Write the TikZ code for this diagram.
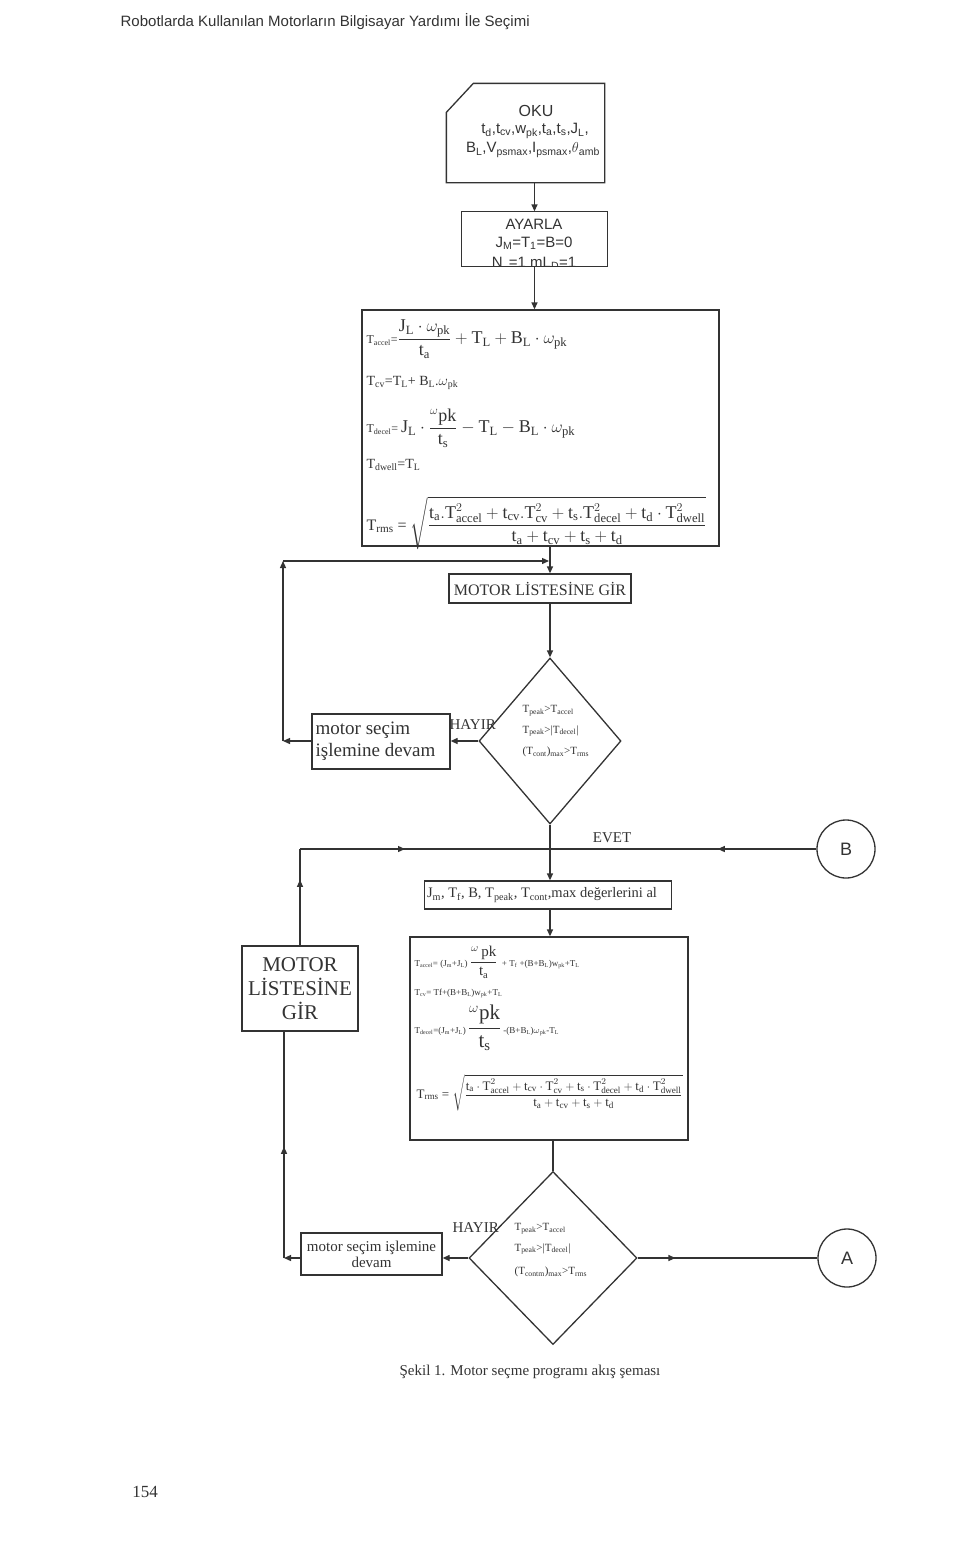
\documentclass[tikz,border=0pt]{standalone}
\usepackage{amsmath}
\usepackage{fontspec}
\setmainfont{Liberation Serif}
\setsansfont{Liberation Sans}
\usetikzlibrary{shapes.geometric,arrows.meta,decorations.markings,calc}
\newcommand\fs[1]{\fontsize{#1}{#1}\selectfont}
\newcommand\ssub[1]{\textsubscript{#1}}
\newcommand\tq[1]{\text{#1}}
\definecolor{ink}{HTML}{333333}
\begin{document}
\begin{tikzpicture}[x=1pt,y=-1pt,
  line width=1.3pt, draw=ink,
  >={Triangle[length=7pt,width=6pt]},
  every node/.style={text=ink},
  box/.style={draw=ink, line width=1.3pt, rectangle, inner sep=0pt},
  lbl/.style={inner sep=0pt, anchor=west},
  midarrow/.style={postaction={decorate},decoration={markings,mark=at position #1 with {\arrow{Triangle[length=7pt,width=6pt]}}}},
]
\path[fill=white] (0,0) rectangle (960,1550);
\useasboundingbox (0,0) rectangle (960,1550);

% header
\node[lbl, font=\sffamily\fs{15}] (hdr) at (120,22) {Robotlarda Kullanılan Motorların Bilgisayar Yardımı İle Seçimi};

% OKU
\node[minimum width=157pt, minimum height=98pt, inner sep=0pt] (oku) at (525.5,133) {};
\draw (oku.south west) -- (oku.south east) -- (oku.north east) -- ([xshift=27pt]oku.north west) -- ([yshift=-29pt]oku.north west) -- cycle;
\node[font=\sffamily\fs{16}] (okut) at (536,111) {OKU};
\node[font=\sffamily\fs{15}] (okua) at (535,131) {t\ssub{d},t\ssub{cv},w\ssub{pk},t\ssub{a},t\ssub{s},J\ssub{L},};
\node[font=\sffamily\fs{15}] (okub) at (533,150) {B\ssub{L},V\ssub{psmax},I\ssub{psmax},$\theta$\ssub{amb}};

% AYARLA
\node[minimum width=145pt, minimum height=54pt, inner sep=0pt] (ay) at (534.5,239) {};
\begin{scope}
\clip (ay.south west) rectangle (ay.north east);
\node[font=\sffamily\fs{15}] (aya) at (534,224) {AYARLA};
\node[font=\sffamily\fs{15}] (ayb) at (534,243) {J\ssub{M}=T\ssub{1}=B=0};
\node[font=\sffamily\fs{15}] (ayc) at (534,263) {N\ssub{..}=1 mL\ssub{D}=1};
\end{scope}
\draw (ay.south west) rectangle (ay.north east);

% formula box 1
\node[box, minimum width=357pt, minimum height=236pt] (f1) at (540.5,428) {};
\node[lbl] (f1a) at (366,339) {\fs{12}T\ssub{accel}=\fs{18}$\dfrac{\tq{J}_{\tq{L}}\cdot\omega_{\tq{pk}}}{\tq{t}_{\tq{a}}}+\tq{T}_{\tq{L}}+\tq{B}_{\tq{L}}\cdot\omega_{\tq{pk}}$};
\node[lbl] (f1b) at (366,383) {\fs{14}T\ssub{cv}=T\ssub{L}+ B\ssub{L}.$\omega$\ssub{pk}};
\node[lbl] (f1c) at (366,428) {\fs{12}T\ssub{decel}= \fs{18}$\tq{J}_{\tq{L}}\cdot\dfrac{{}^{\omega}\tq{pk}}{\tq{t}_{\tq{s}}}-\tq{T}_{\tq{L}}-\tq{B}_{\tq{L}}\cdot\omega_{\tq{pk}}$};
\node[lbl] (f1d) at (366,465) {\fs{14}T\ssub{dwell}=T\ssub{L}};
\node[lbl] (f1e) at (366,523) {\fs{16}T\ssub{rms} =\ \fs{18}$\sqrt{\dfrac{\tq{t}_{\tq{a}}.\tq{T}^2_{\tq{accel}}+\tq{t}_{\tq{cv}}.\tq{T}^2_{\tq{cv}}+\tq{t}_{\tq{s}}.\tq{T}^2_{\tq{decel}}+\tq{t}_{\tq{d}}\cdot\tq{T}^2_{\tq{dwell}}}{\tq{t}_{\tq{a}}+\tq{t}_{\tq{cv}}+\tq{t}_{\tq{s}}+\tq{t}_{\tq{d}}}}$};

% motor listesine gir 1
\node[box, minimum width=182pt, minimum height=29pt, font=\fs{16}] (ml1) at (540,588.5) {MOTOR LİSTESİNE GİR};

% decision 1
\node[diamond, draw=ink, line width=1.3pt, minimum width=142pt, minimum height=166pt, inner sep=0pt] (d1) at (550,741) {};
\node[lbl, font=\fs{11}] (d1a) at (522,711) {T\ssub{peak}>T\ssub{accel}};
\node[lbl, font=\fs{11}] (d1b) at (522,731) {T\ssub{peak}>|T\ssub{decel}|};
\node[lbl, font=\fs{11}] (d1c) at (522,752) {(T\ssub{cont})\ssub{max}>T\ssub{rms}};
\node[lbl, font=\fs{15}] (h1) at (449,725) {HAYIR};

% motor secim 1
\node[box, minimum width=138pt, minimum height=55pt] (ms1) at (381,741.5) {};
\node[lbl, font=\fs{19}] (ms1a) at (315,730) {motor seçim};
\node[lbl, font=\fs{19}] (ms1b) at (315,752) {işlemine devam};

% connectors upper part
\draw[->] (ay.north |- oku.south) -- (ay.north);
\draw[->] (ay.south) -- (ay.south |- f1.north);
\coordinate (J1) at (550,561);
\coordinate (L1) at (283,741);
\coordinate (L1t) at (283,561);
\draw[->] (f1.south -| d1.north) -- (ml1.north -| d1.north);
\draw[->] (ml1.south -| d1.north) -- (d1.north);
\draw[->] (d1.west) -- (ms1.east |- d1.west);
\draw[->] (ms1.west |- d1.west) -- (L1);
\draw[->] (L1) -- (L1t);
\draw[->] (L1t) -- ([xshift=-1pt]J1);

% EVET line
\node[font=\fs{15}] (evet) at (612,838) {EVET};
\node[circle, draw=ink, line width=1.3pt, minimum size=58pt, inner sep=0pt, font=\sffamily\fs{18}] (B) at (846,849) {B};
\node[box, minimum width=247pt, minimum height=28pt] (jb) at (548,895) {};
\node[font=\fs{14.5}, inner sep=0pt] (jbt) at (542,895) {J\ssub{m}, T\ssub{f}, B, T\ssub{peak}, T\ssub{cont},max değerlerini al};
\coordinate (J2) at (550,849);

% motor listesine gir 2
\node[box, minimum width=116pt, minimum height=85pt, font=\fs{21}, align=center] (ml2) at (300,988.5) {MOTOR\\[3pt]LİSTESİNE\\[3pt]GİR};
\coordinate (L2t) at (300,849);
\draw[midarrow=0.68] (ml2.north) -- (L2t);
\draw[midarrow=0.42] (L2t) -- (J2);
\draw[midarrow=0.37] (B.west) -- (J2);
\draw[->] (d1.south) -- (d1.south |- jb.north);

% formula box 2
\node[box, minimum width=278pt, minimum height=203pt] (f2) at (549,1038.5) {};
\draw[->] (jb.south -| d1.south) -- (f2.north -| d1.south);
\node[lbl] (f2a) at (414,962) {\fs{9}T\ssub{accel}= (J\ssub{m}+J\ssub{L}) \fs{15}$\dfrac{{}^{\omega}\,\tq{pk}}{\tq{t}_{\tq{a}}}$\fs{9}\ \ + T\ssub{f} +(B+B\ssub{L})w\ssub{pk}+T\ssub{L}};
\node[lbl] (f2b) at (414,993) {\fs{9}T\ssub{cv}= Tf+(B+B\ssub{L})w\ssub{pk}+T\ssub{L}};
\node[lbl] (f2c) at (414,1028) {\fs{9}T\ssub{decel}=(J\ssub{m}+J\ssub{L}) \fs{21}$\dfrac{{}^{\omega}\tq{pk}}{\tq{t}_{\tq{s}}}$\fs{9} -(B+B\ssub{L})$\omega$\ssub{pk}-T\ssub{L}};
\node[lbl] (f2d) at (416,1093) {\fs{13}T\ssub{rms} = \fs{13}$\sqrt{\dfrac{\tq{t}_{\tq{a}}\cdot\tq{T}^2_{\tq{accel}}+\tq{t}_{\tq{cv}}\cdot\tq{T}^2_{\tq{cv}}+\tq{t}_{\tq{s}}\cdot\tq{T}^2_{\tq{decel}}+\tq{t}_{\tq{d}}\cdot\tq{T}^2_{\tq{dwell}}}{\tq{t}_{\tq{a}}+\tq{t}_{\tq{cv}}+\tq{t}_{\tq{s}}+\tq{t}_{\tq{d}}}}$};

% decision 2
\node[diamond, draw=ink, line width=1.3pt, minimum width=168pt, minimum height=173pt, inner sep=0pt] (d2) at (553,1258) {};
\draw (d2.north |- f2.south) -- (d2.north);
\node[lbl, font=\fs{11}] (d2a) at (514,1229) {T\ssub{peak}>T\ssub{accel}};
\node[lbl, font=\fs{11}] (d2b) at (514,1249) {T\ssub{peak}>|T\ssub{decel}|};
\node[lbl, font=\fs{11}] (d2c) at (514,1272) {(T\ssub{contm})\ssub{max}>T\ssub{rms}};
\node[lbl, font=\fs{15}] (h2) at (452,1228) {HAYIR};

% motor secim 2
\node[box, minimum width=141pt, minimum height=42pt, font=\fs{15}, align=center] (ms2) at (371.5,1254) {motor seçim işlemine\\[1pt]devam};
\node[circle, draw=ink, line width=1.3pt, minimum size=58pt, inner sep=0pt, font=\sffamily\fs{18}] (A) at (847,1258) {A};
\coordinate (L3) at (284,1258);
\coordinate (L3t) at (284,1031);
\draw[->] (d2.west) -- (d2.west -| ms2.east);
\draw[->] (d2.west -| ms2.west) -- (L3);
\draw[midarrow=0.49] (L3) -- (L3t);
\draw[midarrow=0.21] (d2.east) -- (A.west);

% caption and page number
\node[font=\fs{15}] (cap) at (530,1372) {Şekil 1. Motor seçme programı akış şeması};
\node[font=\fs{17}] (pg) at (145,1492) {154};
\end{tikzpicture}
\end{document}
